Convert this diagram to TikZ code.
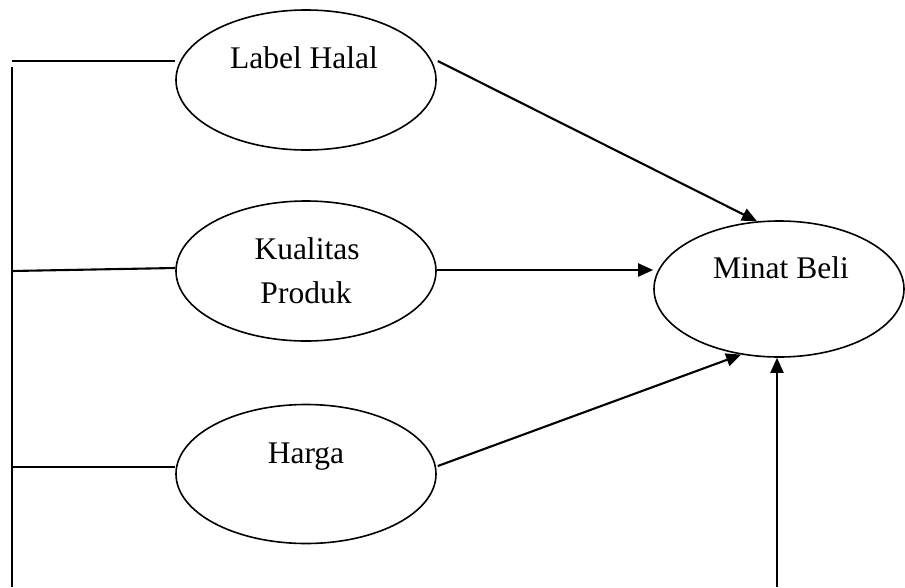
\documentclass[tikz,border=0pt]{standalone}
\usepackage{fontspec}
\setmainfont{Liberation Serif}
\usetikzlibrary{shapes.geometric,arrows.meta}
\begin{document}
\begin{tikzpicture}[x=1pt,y=-1pt,
  oval/.style={draw,ellipse,line width=1.6pt,inner sep=0pt},
  lbl/.style={anchor=base,font=\fontsize{31.5}{36}\selectfont,inner sep=0pt},
  conn/.style={line width=2.1pt},
  arr/.style={line width=2.1pt,-{Triangle[length=15pt,width=13pt]}}]
\useasboundingbox (0,0) rectangle (905,587);
% ellipses
\node[oval,minimum width=260pt,minimum height=140pt] (lh) at (306,80) {};
\node[oval,minimum width=260pt,minimum height=140pt] (kp) at (306,271) {};
\node[oval,minimum width=260pt,minimum height=139pt] (hg) at (306,474) {};
\node[oval,minimum width=250pt,minimum height=136pt] (mb) at (779,289) {};
% texts
\node[lbl] (tlh) at (304,68) {Label Halal};
\node[lbl] (tkp1) at (307,259) {Kualitas};
\node[lbl] (tkp2) at (306,303) {Produk};
\node[lbl] (thg) at (306,463) {Harga};
\node[lbl] (tmb) at (781,278) {Minat Beli};
% left frame
\coordinate (ltop) at (12,61);
\coordinate (lvtop) at (12,67);
\coordinate (lvbot) at (12,587);
\coordinate (lkp) at (12,271);
\coordinate (lhg) at (12,467);
\draw[conn] (lvtop) -- (lvbot);
\draw[conn] (ltop) -- ([yshift=19pt]lh.west);
\draw[conn] (lkp) -- ([yshift=3pt]kp.west);
\draw[conn] (lhg) -- ([yshift=7pt]hg.west);
% arrows
\draw[arr] ([shift={(1pt,19pt)}]lh.east) -- (mb.108);
\draw[arr] ([yshift=1pt]kp.east) -- ([yshift=19pt]mb.west);
\draw[arr] ([shift={(1pt,8pt)}]hg.east) -- (mb.240);
\coordinate (bot) at (777,587);
\draw[arr] (bot) -- (bot |- mb.south);
\end{tikzpicture}
\end{document}
